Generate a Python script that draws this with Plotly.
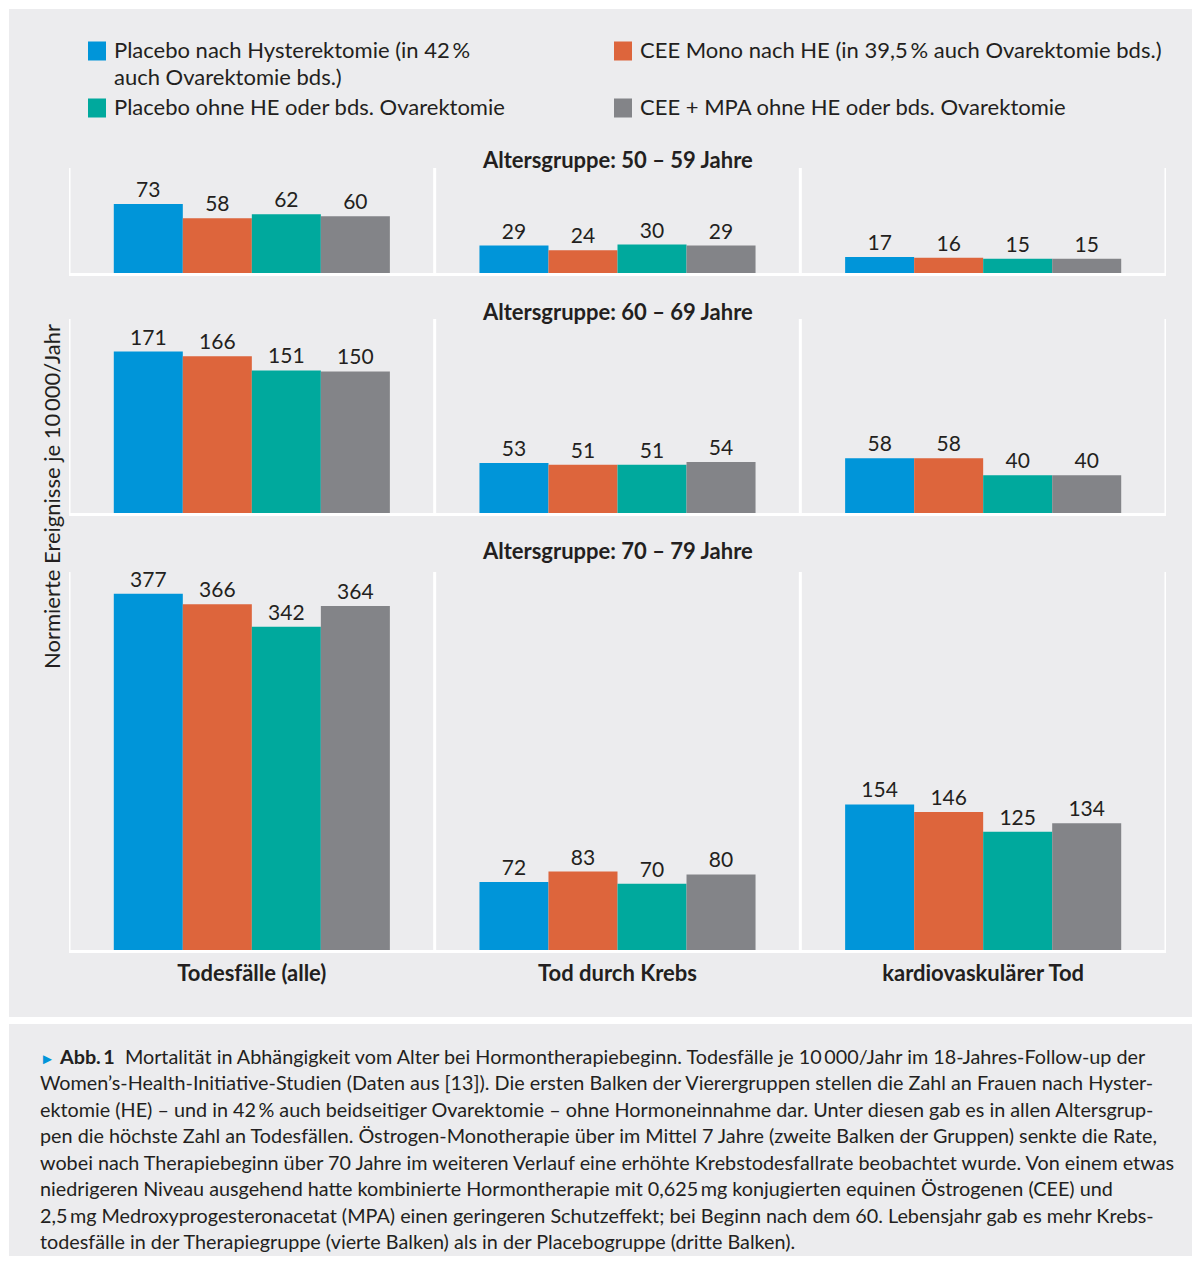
import plotly.graph_objects as go

W, H = 1192, 1265
FONT = "Lato"
TXT = "#231f20"
BG = "#ececee"

categories = ["Todesfälle (alle)", "Tod durch Krebs", "kardiovaskulärer Tod"]
age_titles = ["Altersgruppe: 50 – 59 Jahre", "Altersgruppe: 60 – 69 Jahre", "Altersgruppe: 70 – 79 Jahre"]
series_names = [
    ["Placebo nach Hysterektomie (in 42\u2009%", "auch Ovarektomie bds.)"],
    ["CEE Mono nach HE (in 39,5\u2009% auch Ovarektomie bds.)"],
    ["Placebo ohne HE oder bds. Ovarektomie"],
    ["CEE + MPA ohne HE oder bds. Ovarektomie"],
]
colors = ["#0095d9", "#dd653c", "#00a99d", "#838488"]

# values per age group: rows = series, cols = categories
age_50_59 = [[73, 29, 17], [58, 24, 16], [62, 30, 15], [60, 29, 15]]
age_60_69 = [[171, 53, 58], [166, 51, 58], [151, 51, 40], [150, 54, 40]]
age_70_79 = [[377, 72, 154], [366, 83, 146], [342, 70, 125], [364, 80, 134]]
groups = [age_50_59, age_60_69, age_70_79]
y_max = [111, 205.5, 400]

y_label = "Normierte Ereignisse je 10\u2009000/Jahr"

caption_lines = [
    "<span style='color:#0095d9;font-size:15px'>►</span> <b>Abb.\u20091</b>  Mortalität in Abhängigkeit vom Alter bei Hormontherapiebeginn. Todesfälle je 10\u2009000/Jahr im 18-Jahres-Follow-up der",
    "Women’s-Health-Initiative-Studien (Daten aus [13]). Die ersten Balken der Vierergruppen stellen die Zahl an Frauen nach Hyster-",
    "ektomie (HE) – und in 42\u2009% auch beidseitiger Ovarektomie – ohne Hormoneinnahme dar. Unter diesen gab es in allen Altersgrup-",
    "pen die höchste Zahl an Todesfällen. Östrogen-Monotherapie über im Mittel 7 Jahre (zweite Balken der Gruppen) senkte die Rate,",
    "wobei nach Therapiebeginn über 70 Jahre im weiteren Verlauf eine erhöhte Krebstodesfallrate beobachtet wurde. Von einem etwas",
    "niedrigeren Niveau ausgehend hatte kombinierte Hormontherapie mit 0,625\u2009mg konjugierten equinen Östrogenen (CEE) und",
    "2,5\u2009mg Medroxyprogesteronacetat (MPA) einen geringeren Schutzeffekt; bei Beginn nach dem 60. Lebensjahr gab es mehr Krebs-",
    "todesfälle in der Therapiegruppe (vierte Balken) als in der Placebogruppe (dritte Balken).",
]

def px(x):
    return x / W

def py(y):
    return 1 - y / H

# row pixel extents (top, bottom) and title positions
rows_px = [(168, 273), (319, 513), (572, 950)]
title_y = [160, 311, 551]
x_left, x_right = 69, 1166

fig = go.Figure()
for r, grp in enumerate(groups):
    suffix = "" if r == 0 else str(r + 1)
    for s in range(4):
        fig.add_trace(go.Bar(
            x=categories, y=grp[s], name=" ".join(series_names[s]),
            marker=dict(color=colors[s], line=dict(width=0)),
            text=[str(v) for v in grp[s]], textposition="outside",
            textfont=dict(family=FONT, size=21, color=TXT),
            cliponaxis=False, showlegend=False,
            xaxis="x" + suffix, yaxis="y" + suffix,
        ))

layout = dict(
    width=W, height=H, margin=dict(l=0, r=0, t=0, b=0),
    paper_bgcolor="white", plot_bgcolor="rgba(0,0,0,0)",
    barmode="group", bargap=0.245, bargroupgap=0,
    font=dict(family=FONT, color=TXT),
)
shapes = [
    dict(type="rect", xref="paper", yref="paper", x0=px(9), x1=px(1192), y0=py(1017), y1=py(9),
         fillcolor=BG, line=dict(width=0), layer="below"),
    dict(type="rect", xref="paper", yref="paper", x0=px(9), x1=px(1192), y0=py(1256), y1=py(1024),
         fillcolor=BG, line=dict(width=0), layer="below"),
]
annotations = []
for r in range(3):
    suffix = "" if r == 0 else str(r + 1)
    top, bot = rows_px[r]
    layout["xaxis" + suffix] = dict(
        domain=[px(x_left), px(x_right)], anchor="y" + suffix,
        range=[-0.5, 2.5], type="category",
        showline=True, linecolor="white", linewidth=3,
        showgrid=False, zeroline=False, ticks="",
        showticklabels=(r == 2),
        tickfont=dict(family=FONT, size=22, color=TXT, weight="bold"),
        fixedrange=True,
    )
    layout["yaxis" + suffix] = dict(
        domain=[py(bot), py(top)], anchor="x" + suffix,
        range=[0, y_max[r]], showgrid=False, zeroline=False,
        showline=False, showticklabels=False, ticks="", fixedrange=True,
    )
    for xb in [-0.5, 0.5, 1.5, 2.5]:
        shapes.append(dict(type="line", xref="x" + suffix, yref="y" + suffix + " domain",
                           x0=xb, x1=xb, y0=0, y1=1, line=dict(color="white", width=3),
                           layer="below"))
    annotations.append(dict(
        text="<b>" + age_titles[r] + "</b>", xref="paper", yref="paper",
        x=px((x_left + x_right) / 2), y=py(title_y[r]), xanchor="center", yanchor="middle",
        showarrow=False, font=dict(family=FONT, size=22, color=TXT)))

layout["xaxis3"]["ticklabelstandoff"] = 2

# y-axis title
annotations.append(dict(text=y_label, xref="paper", yref="paper", x=px(52), y=py(497),
                        textangle=-90, showarrow=False, xanchor="center", yanchor="middle",
                        font=dict(family=FONT, size=22, color=TXT)))

# legend (manual)
legend_pos = [(88, 51), (614, 51), (88, 108), (614, 108)]
for i, (lx, ly) in enumerate(legend_pos):
    shapes.append(dict(type="rect", xref="paper", yref="paper",
                       x0=px(lx), x1=px(lx + 18), y0=py(ly + 9.5), y1=py(ly - 9.5),
                       fillcolor=colors[i], line=dict(width=0)))
    for j, part in enumerate(series_names[i]):
        annotations.append(dict(text=part, xref="paper", yref="paper",
                                x=px(lx + 24), y=py(ly - 1 + j * 27), xanchor="left", yanchor="middle",
                                align="left", showarrow=False,
                                font=dict(family=FONT, size=22, color=TXT)))

# caption
for i, line in enumerate(caption_lines):
    annotations.append(dict(text=line, xref="paper", yref="paper",
                            x=px(38), y=py(1056 + i * 26.45), xanchor="left", yanchor="middle",
                            align="left", showarrow=False,
                            font=dict(family=FONT, size=19.8, color=TXT)))

layout["shapes"] = shapes
layout["annotations"] = annotations
fig.update_layout(**layout)
fig.write_html("out.html")
